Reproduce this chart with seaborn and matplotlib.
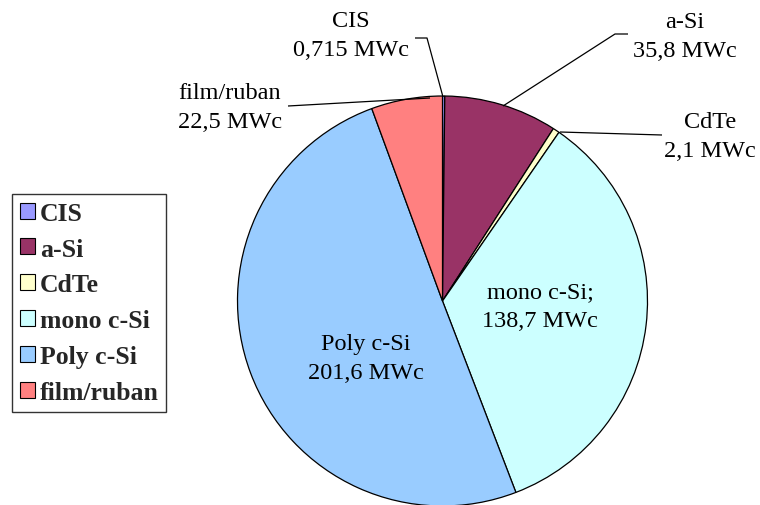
import matplotlib
matplotlib.use("Agg")
import matplotlib.pyplot as plt
import seaborn as sns
from matplotlib.patches import Patch

categories = ["CIS", "a-Si", "CdTe", "mono c-Si", "Poly c-Si", "film/ruban"]
values = [0.715, 35.8, 2.1, 138.7, 201.6, 22.5]
value_labels = ["0,715", "35,8", "2,1", "138,7", "201,6", "22,5"]
label_names = ["CIS", "a-Si", "CdTe", "mono c-Si;", "Poly c-Si", "film/ruban"]
colors = ["#9999FF", "#993366", "#FFFFCC", "#CCFFFF", "#99CCFF", "#FF8080"]

sns.set_style("white")
plt.rcParams["font.family"] = ["Liberation Serif", "DejaVu Serif"]

W, H = 760, 506
fig = plt.figure(figsize=(W / 100, H / 100), dpi=100)
ax = fig.add_axes([0, 0, 1, 1])

cx, cy, r = 442.5, H - 302, 205
ax.pie(values, colors=colors, startangle=90, counterclock=False,
       center=(cx, cy), radius=r,
       wedgeprops=dict(edgecolor="black", linewidth=0.9))
ax.set_xlim(0, W)
ax.set_ylim(0, H)
ax.set_aspect("equal")
ax.axis("off")

fs = 17.5
ls = 1.5
# label centres (pixel coords, y measured from top)
label_pos = {
    "CIS": (351, 36),
    "a-Si": (685, 37),
    "CdTe": (710, 137),
    "mono c-Si": (540, 307),
    "Poly c-Si": (366, 359),
    "film/ruban": (230, 108),
}
for cat, name, vl in zip(categories, label_names, value_labels):
    x, y = label_pos[cat]
    ax.text(x, H - y, f"{name}\n{vl} MWc", ha="center", va="center",
            fontsize=fs, linespacing=ls, color="black")

# leader lines
leaders = [
    [(415, 39), (427, 39), (443, 98)],
    [(628, 35), (615, 35), (503, 107)],
    [(662, 136), (560, 133)],
    [(288, 107), (430, 99)],
]
for pts in leaders:
    xs = [p[0] for p in pts]
    ys = [H - p[1] for p in pts]
    ax.plot(xs, ys, color="black", linewidth=0.9, solid_capstyle="butt")

handles = [Patch(facecolor=c, edgecolor="black", linewidth=0.8) for c in colors]
leg = ax.legend(handles, categories, loc="upper left",
                bbox_to_anchor=(12, H - 195), bbox_transform=ax.transData,
                borderaxespad=0, frameon=True, fancybox=False,
                prop={"family": ["Liberation Serif"], "weight": "bold", "size": 18.5},
                handlelength=0.58, handleheight=0.58, handletextpad=0.2,
                labelspacing=0.5, borderpad=0.3)
leg.get_frame().set_edgecolor("black")
leg.get_frame().set_linewidth(1.0)

fig.savefig("out.png", dpi=100)
